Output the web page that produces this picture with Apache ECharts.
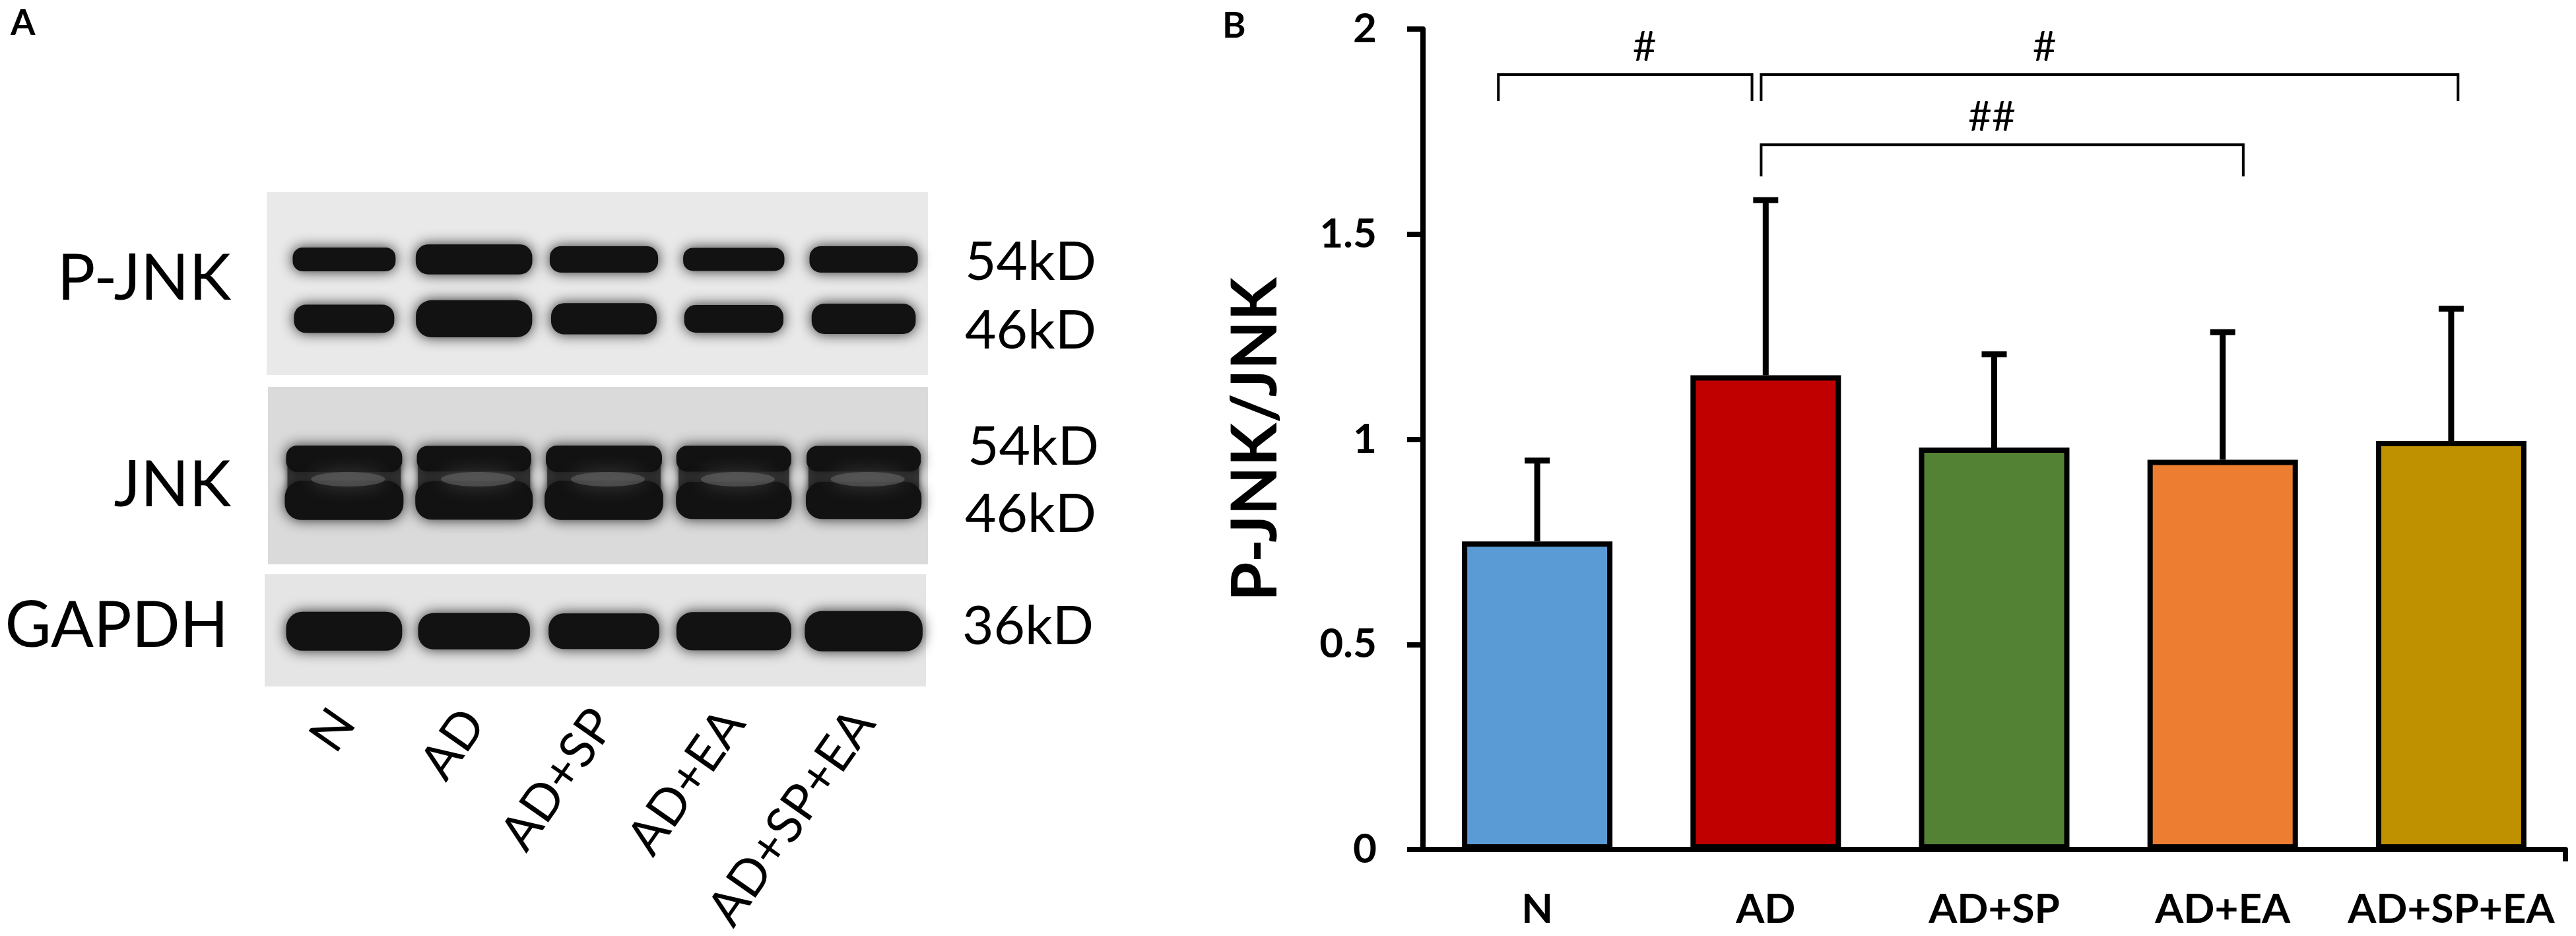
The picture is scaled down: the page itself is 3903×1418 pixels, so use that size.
<!DOCTYPE html>
<html>
<head>
<meta charset="UTF-8">
<title>P-JNK / JNK</title>
<script src="https://cdn.jsdelivr.net/npm/echarts@6/dist/echarts.min.js"></script>
<style>
  html, body { margin: 0; padding: 0; background: #fff; }
  #main { width: 3903px; height: 1418px; }
</style>
</head>
<body>
<div id="main"></div>
<script>
// groups (lanes in A, bars in B)
var groups = ['N', 'AD', 'AD+SP', 'AD+EA', 'AD+SP+EA'];

// B: P-JNK/JNK ratio, mean and mean + SD
var ratioMean = [0.751, 1.156, 0.980, 0.950, 0.996];
var ratioUpper = [0.948, 1.583, 1.207, 1.261, 1.318];

// B: significance brackets (category units)
var sigFrom = [-0.17, 0.98, 0.98];
var sigTo = [0.94, 4.03, 3.09];
var sigLevel = [1.889, 1.889, 1.718];
var sigMarkX = [0.47, 2.22, 1.99];
var sigText = ['#', '#', '##'];

// A: relative band strength per lane, read from the blot
var pjnk54 = [0.95, 1.20, 1.05, 0.92, 1.05];
var pjnk46 = [0.95, 1.25, 1.05, 0.93, 1.02];
var jnk54 = [1.00, 0.97, 1.00, 0.98, 0.97];
var jnk46 = [1.02, 1.00, 1.02, 0.97, 0.97];
var gapdh = [1.02, 0.95, 0.93, 1.00, 1.05];

var barColors = ['#5B9BD5', '#C00000', '#548235', '#ED7D31', '#BF9000'];
var FONT = 'Lato';

var myChart = echarts.init(document.getElementById('main'));

function laneData(arr) {
  return arr.map(function (v, i) { return [i, v]; });
}

// soft dark band of a western blot
function bandRender(row, baseW, baseH) {
  return function (params, api) {
    var s = api.value(1);
    var c = api.coord([api.value(0), row]);
    var w = baseW * (0.5 + 0.5 * s) - 6;
    var h = baseH * s;
    return {
      type: 'rect',
      shape: { x: c[0] - w / 2, y: c[1] - h / 2, width: w, height: h, r: h * 0.42 },
      style: { fill: '#121212', shadowBlur: 20, shadowColor: 'rgba(10,10,10,0.85)' }
    };
  };
}

// gray zone joining the two JNK bands, with a lighter core
function jnkGapRender(params, api) {
  var top = api.coord([api.value(0), 0.405]);
  var bot = api.coord([api.value(0), 0.64]);
  var w = 170 * (0.5 + 0.5 * api.value(1));
  return {
    type: 'rect',
    shape: { x: top[0] - w / 2, y: top[1], width: w, height: bot[1] - top[1], r: 10 },
    style: { fill: '#3a3a3a', shadowBlur: 10, shadowColor: 'rgba(40,40,40,0.8)' }
  };
}

function jnkCoreRender(params, api) {
  var c = api.coord([api.value(0), 0.52]);
  return {
    type: 'ellipse',
    shape: { cx: c[0] + 6, cy: c[1], rx: 56, ry: 11 },
    style: { fill: 'rgba(105,105,105,0.55)', shadowBlur: 28, shadowColor: 'rgba(110,110,110,0.9)' }
  };
}

function errorRender(params, api) {
  var x = api.value(0);
  var p0 = api.coord([x, api.value(1)]);
  var p1 = api.coord([x, api.value(2)]);
  var cap = 19;
  return {
    type: 'group',
    children: [{
      type: 'line',
      shape: { x1: p0[0], y1: p0[1], x2: p1[0], y2: p1[1] },
      style: { stroke: '#000', lineWidth: 9 }
    }, {
      type: 'line',
      shape: { x1: p1[0] - cap, y1: p1[1], x2: p1[0] + cap, y2: p1[1] },
      style: { stroke: '#000', lineWidth: 9 }
    }]
  };
}

function sigRender(params, api) {
  var lvl = api.value(2);
  var a = api.coord([api.value(0), lvl]);
  var b = api.coord([api.value(1), lvl]);
  var m = api.coord([api.value(3), lvl + 0.066]);
  var leg = params.dataIndex === 2 ? 48 : 40;
  return {
    type: 'group',
    children: [{
      type: 'polyline',
      shape: { points: [[a[0], a[1] + leg], [a[0], a[1]], [b[0], b[1]], [b[0], b[1] + leg]] },
      style: { stroke: '#000', lineWidth: 4, fill: null }
    }, {
      type: 'text',
      x: m[0], y: m[1],
      style: { text: sigText[params.dataIndex], font: '62px ' + FONT, fill: '#000', align: 'center', verticalAlign: 'middle' }
    }]
  };
}

var sigData = sigFrom.map(function (f, i) {
  // value axis 0..5 puts category i at i + 0.5
  return [f + 0.5, sigTo[i] + 0.5, sigLevel[i], sigMarkX[i] + 0.5];
});

var blackLine = { color: '#000', width: 8 };

function txt(text, x, y, size, align, weight) {
  return {
    type: 'text', x: x, y: y, z: 5,
    style: { text: text, font: (weight || 'normal') + ' ' + size + 'px ' + FONT, fill: '#000', align: align, verticalAlign: 'middle' }
  };
}

myChart.setOption({
  backgroundColor: '#fff',
  animation: false,
  graphic: [
    { type: 'rect', z: 0, shape: { x: 404, y: 291, width: 1002, height: 277 }, style: { fill: '#e9e9e9' } },
    { type: 'rect', z: 0, shape: { x: 406, y: 586, width: 1000, height: 269 }, style: { fill: '#dadada' } },
    { type: 'rect', z: 0, shape: { x: 401, y: 870, width: 1002, height: 170 }, style: { fill: '#e5e5e5' } },
    txt('A', 16, 36, 54, 'left', 'bold'),
    txt('B', 1852, 40, 54, 'left', 'bold'),
    txt('P-JNK', 350, 423, 96, 'right'),
    txt('JNK', 350, 736, 96, 'right'),
    txt('GAPDH', 346, 949, 96, 'right'),
    txt('54kD', 1462, 398, 82, 'left'),
    txt('46kD', 1462, 502, 82, 'left'),
    txt('54kD', 1466, 678, 82, 'left'),
    txt('46kD', 1462, 780, 82, 'left'),
    txt('36kD', 1458, 950, 82, 'left')
  ],
  grid: [
    { left: 2156, top: 44, right: 16, bottom: 131 },
    { left: 423, top: 291, width: 984, height: 277 },
    { left: 423, top: 586, width: 984, height: 269 },
    { left: 423, top: 870, width: 984, height: 170 }
  ],
  xAxis: [{
    type: 'category', gridIndex: 0, data: groups, boundaryGap: true,
    axisLine: { lineStyle: blackLine },
    axisTick: { alignWithLabel: true, length: 18, lineStyle: blackLine },
    axisLabel: { fontFamily: FONT, fontWeight: 'bold', fontSize: 62, color: '#000', margin: 60, interval: 0 },
    splitLine: { show: false }
  }, {
    type: 'value', gridIndex: 0, min: 0, max: 5, interval: 5, position: 'bottom',
    axisLine: { show: false },
    axisTick: { show: true, length: 18, lineStyle: blackLine, customValues: [5] },
    axisLabel: { show: false },
    splitLine: { show: false }
  }, {
    type: 'category', gridIndex: 1, data: groups, show: false
  }, {
    type: 'category', gridIndex: 2, data: groups, show: false
  }, {
    type: 'category', gridIndex: 3, data: groups,
    axisLine: { show: false }, axisTick: { show: false },
    axisLabel: { rotate: 55, margin: 50, interval: 0, fontFamily: FONT, fontSize: 76, color: '#000' }
  }],
  yAxis: [{
    type: 'value', gridIndex: 0, min: 0, max: 2, interval: 0.5,
    axisLine: { show: true, lineStyle: blackLine },
    axisTick: { show: true, length: 24, lineStyle: blackLine },
    axisLabel: { fontFamily: FONT, fontWeight: 'bold', fontSize: 62, color: '#000', margin: 70 },
    splitLine: { show: false },
    name: 'P-JNK/JNK', nameLocation: 'middle', nameGap: 205,
    nameTextStyle: { fontFamily: FONT, fontWeight: 'bold', fontSize: 96, color: '#000' }
  }, {
    type: 'value', gridIndex: 1, min: 0, max: 1, inverse: true, show: false
  }, {
    type: 'value', gridIndex: 2, min: 0, max: 1, inverse: true, show: false
  }, {
    type: 'value', gridIndex: 3, min: 0, max: 1, inverse: true, show: false
  }],
  series: [{
    type: 'bar', xAxisIndex: 0, yAxisIndex: 0, barWidth: 228, z: 3,
    data: ratioMean.map(function (v, i) {
      return { value: v, itemStyle: { color: barColors[i], borderColor: '#000', borderWidth: 8 } };
    })
  }, {
    type: 'custom', xAxisIndex: 0, yAxisIndex: 0, z: 2,
    renderItem: errorRender,
    encode: { x: 0, y: [1, 2] },
    data: ratioMean.map(function (v, i) { return [i, v, ratioUpper[i]]; })
  }, {
    type: 'custom', xAxisIndex: 1, yAxisIndex: 0, z: 4,
    renderItem: sigRender,
    encode: { x: [0, 1, 3], y: 2 },
    data: sigData
  }, {
    type: 'custom', xAxisIndex: 2, yAxisIndex: 1, z: 2,
    renderItem: bandRender(0.368, 166, 38),
    encode: { x: 0, y: 1 }, data: laneData(pjnk54)
  }, {
    type: 'custom', xAxisIndex: 2, yAxisIndex: 1, z: 2,
    renderItem: bandRender(0.693, 162, 45),
    encode: { x: 0, y: 1 }, data: laneData(pjnk46)
  }, {
    type: 'custom', xAxisIndex: 3, yAxisIndex: 2, z: 1,
    renderItem: jnkGapRender,
    encode: { x: 0, y: 1 }, data: laneData(jnk46)
  }, {
    type: 'custom', xAxisIndex: 3, yAxisIndex: 2, z: 2,
    renderItem: bandRender(0.405, 182, 40),
    encode: { x: 0, y: 1 }, data: laneData(jnk54)
  }, {
    type: 'custom', xAxisIndex: 3, yAxisIndex: 2, z: 2,
    renderItem: bandRender(0.64, 184, 58),
    encode: { x: 0, y: 1 }, data: laneData(jnk46)
  }, {
    type: 'custom', xAxisIndex: 3, yAxisIndex: 2, z: 3,
    renderItem: jnkCoreRender,
    encode: { x: 0, y: 1 }, data: laneData(jnk46)
  }, {
    type: 'custom', xAxisIndex: 4, yAxisIndex: 3, z: 2,
    renderItem: bandRender(0.53, 180, 58),
    encode: { x: 0, y: 1 }, data: laneData(gapdh)
  }]
});
</script>
</body>
</html>
